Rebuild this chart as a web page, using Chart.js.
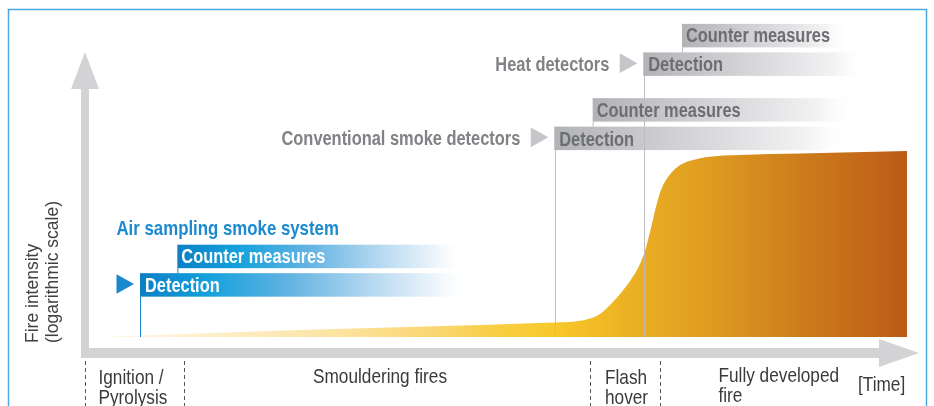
<!DOCTYPE html>
<html><head><meta charset="utf-8">
<script src="https://cdn.jsdelivr.net/npm/chart.js@4/dist/chart.umd.min.js"></script>
<style>html,body{margin:0;padding:0;background:#fff;overflow:hidden}#wrap{width:934px;height:406px;position:relative}</style>
</head><body><div id="wrap"><canvas id="c" width="934" height="406"></canvas></div>
<script>
// ---------- data ----------
const timeValues    = [0, 5.67, 25.25, 47.41, 56.65, 59.11, 60.96, 62.19, 63.42, 64.66, 65.89, 66.87, 67.61, 68.10, 68.47, 68.84, 69.21, 69.70, 70.32, 71.18, 72.29, 73.65, 75.37, 79.43, 86.82, 100];
const fireIntensity = [0, 0.47, 2.19, 3.75, 4.53, 4.84, 5.78, 7.19, 10.0, 13.44, 17.5, 21.56, 25.94, 30.31, 34.06, 38.13, 41.88, 45.94, 49.06, 51.88, 54.06, 55.31, 56.25, 56.88, 57.34, 58.13];
const systemNames    = ['Air sampling smoke system', 'Conventional smoke detectors', 'Heat detectors'];
const detectionStart = [5.54, 56.56, 67.52];
const detectionEnd   = [46.2, 92.98, 95.07];
const counterStart   = [10.14, 61.29, 72.29];
const counterEnd     = [45.6, 93.84, 92.98];
const detectionLevel = [12.6, 58.4, 81.6];
const boxLabels      = ['Detection', 'Counter measures'];
const phaseBounds    = [-1.23, 10.96, 60.96, 69.64];
const phaseLabels    = [['Ignition /', 'Pyrolysis'], ['Smouldering fires'], ['Flash', 'hover'], ['Fully developed', 'fire']];
const timeLabel      = '[Time]';
const intensityTitle = ['Fire intensity', '(logarithmic scale)'];

// ---------- styles ----------
const FONT = '"Liberation Sans", Arial, sans-serif';
const SX = 0.82; // condensed look
const blueStops = [[0,'#0c7fc5'],[0.2,'#12a0dc'],[0.45,'#62b3e2'],[0.7,'#b5d8f0'],[0.9,'#eef6fc'],[1,'rgba(255,255,255,0)']];
const greyStops = [[0,'#b2b3b7'],[0.3,'#c9c9cd'],[0.6,'#dfdfe2'],[0.85,'#f2f2f3'],[1,'rgba(255,255,255,0)']];
const sysStyle = [
  {stops: blueStops, text: '#ffffff', tri: '#1b87cc', line: '#1b87cc', label: '#1b8ad0', heading: true},
  {stops: greyStops, text: '#6d6e71', tri: '#c6c6ca', line: 'rgba(185,185,190,0.9)', label: '#808285'},
  {stops: greyStops, text: '#6d6e71', tri: '#c6c6ca', line: 'rgba(185,185,190,0.9)', label: '#808285'}
];
const phaseOffset = [13.5, 129, 15, 58];
const phaseBase = [[383.5, 403.5], [382.5], [383.5, 403.5], [381.5, 401.5]];

function txt(ctx, s, x, y, font, color, align, sx) {
  sx = sx || SX;
  ctx.save();
  ctx.font = font; ctx.fillStyle = color; ctx.textBaseline = 'alphabetic'; ctx.textAlign = 'left';
  const w = ctx.measureText(s).width * sx;
  const dx = align === 'right' ? x - w : (align === 'center' ? x - w / 2 : x);
  ctx.translate(dx, y); ctx.scale(sx, 1); ctx.fillText(s, 0, 0);
  ctx.restore();
}
function grad(ctx, x0, x1, stops) {
  const g = ctx.createLinearGradient(x0, 0, x1, 0);
  stops.forEach(s => g.addColorStop(s[0], s[1]));
  return g;
}

const decor = {
  id: 'decor',
  beforeDatasetsDraw(chart) {
    const ctx = chart.ctx, ca = chart.chartArea;
    const X = v => chart.scales.x.getPixelForValue(v);
    const Y = v => chart.scales.y.getPixelForValue(v);
    ctx.save();
    // frame
    ctx.strokeStyle = '#4aa9e2'; ctx.lineWidth = 1.5;
    ctx.beginPath(); ctx.moveTo(8.5, 410); ctx.lineTo(8.5, 9.5); ctx.lineTo(926.5, 9.5); ctx.lineTo(926.5, 410); ctx.stroke();
    // axes
    const ax = ca.left - 10, ay = ca.bottom + 16;
    ctx.fillStyle = '#d3d3d5';
    ctx.fillRect(ax - 4, 88, 8, ay + 5 - 88);
    ctx.beginPath(); ctx.moveTo(ax, 52); ctx.lineTo(ax + 14, 89); ctx.lineTo(ax - 14, 89); ctx.closePath(); ctx.fill();
    ctx.fillRect(ax - 4, ay - 5, 880 - (ax - 4), 10);
    ctx.beginPath(); ctx.moveTo(919, ay); ctx.lineTo(879, ay - 14); ctx.lineTo(879, ay + 14); ctx.closePath(); ctx.fill();

    // systems
    const H = 23.5, GAP = 5;
    for (let i = 0; i < systemNames.length; i++) {
      const st = sysStyle[i];
      const dl = X(detectionStart[i]), dr = X(detectionEnd[i]);
      const cl = X(counterStart[i]), cr = X(counterEnd[i]);
      const db = Y(detectionLevel[i]), dt = db - H;
      const cb = dt - GAP, ct = cb - H;
      ctx.fillStyle = grad(ctx, cl, cr, st.stops); ctx.fillRect(cl, ct, cr - cl, H);
      ctx.fillStyle = grad(ctx, dl, dr, st.stops); ctx.fillRect(dl, dt, dr - dl, H);
      // connector
      ctx.fillStyle = st.line; ctx.fillRect(cl, cb, 1, GAP);
      txt(ctx, boxLabels[0], dl + 5, db - 4.5, 'bold 20px ' + FONT, st.text);
      txt(ctx, boxLabels[1], cl + 4, cb - 5, 'bold 20px ' + FONT, st.text);
      // triangle
      const tl = dl - 23.5, tr = dl - 6, tc = (dt + db) / 2 - 1;
      ctx.fillStyle = st.tri;
      ctx.beginPath(); ctx.moveTo(tl, tc - 9.8); ctx.lineTo(tr, tc); ctx.lineTo(tl, tc + 9.8); ctx.closePath(); ctx.fill();
      if (st.heading) {
        txt(ctx, systemNames[i], tl, ct - 10, 'bold 20.5px ' + FONT, st.label);
      } else {
        txt(ctx, systemNames[i], tl - 10.5, db - 5, 'bold 20px ' + FONT, st.label, 'right');
      }
    }

    // phase separators
    ctx.strokeStyle = '#555'; ctx.lineWidth = 1; ctx.setLineDash([4, 3]);
    phaseBounds.forEach(b => {
      const x = Math.round(X(b)) + 0.5;
      ctx.beginPath(); ctx.moveTo(x, 361); ctx.lineTo(x, 408); ctx.stroke();
    });
    ctx.setLineDash([]);
    phaseLabels.forEach((lines, i) => {
      const x = X(phaseBounds[i]) + phaseOffset[i];
      lines.forEach((s, j) => txt(ctx, s, x, phaseBase[i][j], '21px ' + FONT, '#3a3a3a'));
    });
    txt(ctx, timeLabel, 858, 390.5, '21px ' + FONT, '#3a3a3a');

    // y title
    ctx.save();
    ctx.font = '17.5px ' + FONT; ctx.fillStyle = '#404040'; ctx.textAlign = 'left'; ctx.textBaseline = 'alphabetic';
    ctx.translate(37.5, 343); ctx.rotate(-Math.PI / 2); ctx.fillText(intensityTitle[0], 0, 0); ctx.restore();
    ctx.save();
    ctx.font = '17.5px ' + FONT; ctx.fillStyle = '#404040'; ctx.textAlign = 'left'; ctx.textBaseline = 'alphabetic';
    ctx.translate(57.5, 343); ctx.rotate(-Math.PI / 2); ctx.fillText(intensityTitle[1], 0, 0); ctx.restore();
    ctx.restore();
  },
  afterDatasetsDraw(chart) {
    const ctx = chart.ctx;
    const X = v => chart.scales.x.getPixelForValue(v);
    const Y = v => chart.scales.y.getPixelForValue(v);
    ctx.save();
    for (let i = 0; i < systemNames.length; i++) {
      const x = Math.round(X(detectionStart[i])) + 0.5 + (i === 0 ? 0 : 1);
      ctx.strokeStyle = sysStyle[i].line; ctx.lineWidth = 1;
      ctx.beginPath(); ctx.moveTo(x, Y(detectionLevel[i])); ctx.lineTo(x, Y(0)); ctx.stroke();
    }
    ctx.restore();
  }
};

new Chart(document.getElementById('c'), {
  type: 'line',
  data: {
    datasets: [{
      data: timeValues.map((t, i) => ({x: t, y: fireIntensity[i]})),
      fill: 'origin',
      borderWidth: 0,
      borderColor: 'rgba(0,0,0,0)',
      pointRadius: 0,
      cubicInterpolationMode: 'monotone',
      backgroundColor: (c) => {
        const ca = c.chart.chartArea;
        if (!ca) return '#f0b020';
        const g = c.chart.ctx.createLinearGradient(ca.left, 0, ca.right, 0);
        [[0,'#fff8ea'],[0.15,'#fdeec8'],[0.3,'#fce3a0'],[0.42,'#fad670'],[0.5,'#f9cd40'],[0.567,'#f8c82a'],[0.65,'#edb224'],[0.75,'#df9d20'],[0.87,'#cd7c1c'],[1,'#bc5b18']].forEach(s => g.addColorStop(s[0], s[1]));
        return g;
      }
    }]
  },
  options: {
    responsive: false,
    animation: false,
    devicePixelRatio: 1,
    layout: {padding: {left: 95, right: 27, top: 17, bottom: 69}},
    plugins: {legend: {display: false}, tooltip: {enabled: false}, title: {display: false}},
    scales: {
      x: {type: 'linear', min: 0, max: 100, display: false},
      y: {type: 'linear', min: 0, max: 100, display: false}
    }
  },
  plugins: [decor]
});
</script></body></html>
